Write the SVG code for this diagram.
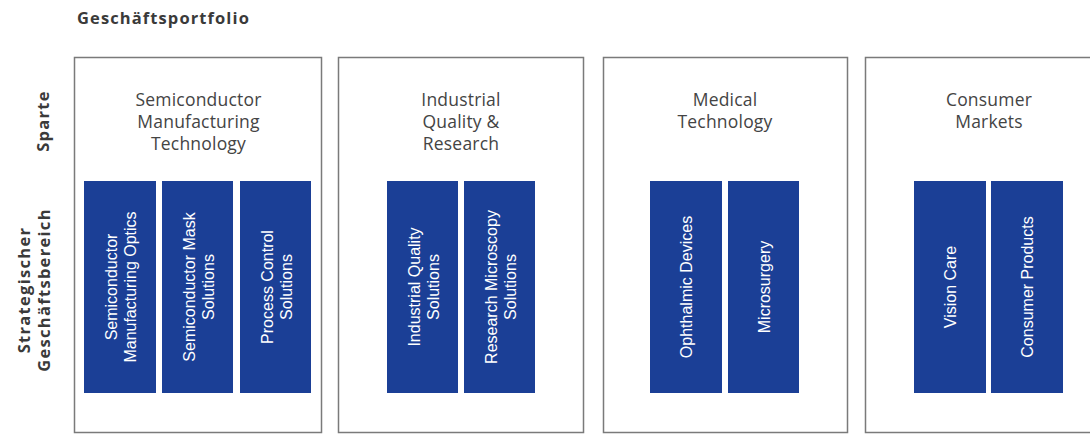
<svg xmlns="http://www.w3.org/2000/svg" width="1090" height="434" viewBox="0 0 1090 434">
<style>
.bg{fill:#ffffff}
.frame{fill:#ffffff;stroke:#7a7a7a;stroke-width:1.5}
.sge{fill:#1b3f96}
.title{font-family:"Open Sans","Liberation Sans",sans-serif;font-weight:bold;font-size:16.5px;letter-spacing:1.1px;fill:#3a3a3a}
.side{font-family:"Open Sans","Liberation Sans",sans-serif;font-weight:bold;font-size:16.5px;letter-spacing:1.3px;fill:#3a3a3a;text-anchor:middle}
.head{font-family:"Open Sans","Liberation Sans",sans-serif;font-size:17.5px;letter-spacing:0.2px;fill:#444444;text-anchor:middle}
.lbl{font-family:"Liberation Sans",sans-serif;font-size:16px;fill:#ffffff;text-anchor:middle}
</style>
<rect class="bg" x="0" y="0" width="1090" height="434"/>
<text class="title" x="77" y="24">Geschäftsportfolio</text>
<g id="axis-labels">
<text class="side" transform="translate(0,121) rotate(-90)" x="0" y="49">Sparte</text>
<text class="side" transform="translate(0,290) rotate(-90)" x="0" y="30">Strategischer</text>
<text class="side" transform="translate(0,290) rotate(-90)" x="0" y="50">Geschäftsbereich</text>
</g>
<g id="smt">
<rect class="frame" x="74.5" y="57.5" width="247" height="375"/>
<text class="head" x="198.5" y="106">Semiconductor</text>
<text class="head" x="198.5" y="128">Manufacturing</text>
<text class="head" x="198.5" y="150">Technology</text>
<g id="smt-optics"><rect class="sge" x="84" y="181" width="72" height="212"/>
<text class="lbl" transform="translate(120,287) rotate(-90)" x="0" y="-3">Semiconductor</text>
<text class="lbl" transform="translate(120,287) rotate(-90)" x="0" y="16">Manufacturing Optics</text></g>
<g id="smt-mask"><rect class="sge" x="162" y="181" width="71" height="212"/>
<text class="lbl" transform="translate(197.5,287) rotate(-90)" x="0" y="-3">Semiconductor Mask</text>
<text class="lbl" transform="translate(197.5,287) rotate(-90)" x="0" y="16">Solutions</text></g>
<g id="smt-process"><rect class="sge" x="240" y="181" width="71" height="212"/>
<text class="lbl" transform="translate(275.5,287) rotate(-90)" x="0" y="-3">Process Control</text>
<text class="lbl" transform="translate(275.5,287) rotate(-90)" x="0" y="16">Solutions</text></g>
</g>
<g id="iqr">
<rect class="frame" x="338.5" y="57.5" width="245" height="375"/>
<text class="head" x="461" y="106">Industrial</text>
<text class="head" x="461" y="128">Quality &amp;</text>
<text class="head" x="461" y="150">Research</text>
<g id="iqr-industrial"><rect class="sge" x="387" y="181" width="71" height="212"/>
<text class="lbl" transform="translate(422.5,287) rotate(-90)" x="0" y="-3">Industrial Quality</text>
<text class="lbl" transform="translate(422.5,287) rotate(-90)" x="0" y="16">Solutions</text></g>
<g id="iqr-research"><rect class="sge" x="464" y="181" width="71" height="212"/>
<text class="lbl" transform="translate(499.5,287) rotate(-90)" x="0" y="-3">Research Microscopy</text>
<text class="lbl" transform="translate(499.5,287) rotate(-90)" x="0" y="16">Solutions</text></g>
</g>
<g id="medtech">
<rect class="frame" x="603.5" y="57.5" width="244" height="375"/>
<text class="head" x="725" y="106">Medical</text>
<text class="head" x="725" y="128">Technology</text>
<g id="med-ophthalmic"><rect class="sge" x="650" y="181" width="72" height="212"/>
<text class="lbl" transform="translate(686,287) rotate(-90)" x="0" y="6">Ophthalmic Devices</text></g>
<g id="med-micro"><rect class="sge" x="728" y="181" width="71" height="212"/>
<text class="lbl" transform="translate(763.5,287) rotate(-90)" x="0" y="6">Microsurgery</text></g>
</g>
<g id="consumer">
<rect class="frame" x="865.5" y="57.5" width="250" height="375"/>
<text class="head" x="989" y="106">Consumer</text>
<text class="head" x="989" y="128">Markets</text>
<g id="con-vision"><rect class="sge" x="914" y="181" width="72" height="212"/>
<text class="lbl" transform="translate(950,287) rotate(-90)" x="0" y="6">Vision Care</text></g>
<g id="con-products"><rect class="sge" x="991" y="181" width="72" height="212"/>
<text class="lbl" transform="translate(1027,287) rotate(-90)" x="0" y="6">Consumer Products</text></g>
</g>
<g id="connectors"></g>
</svg>
